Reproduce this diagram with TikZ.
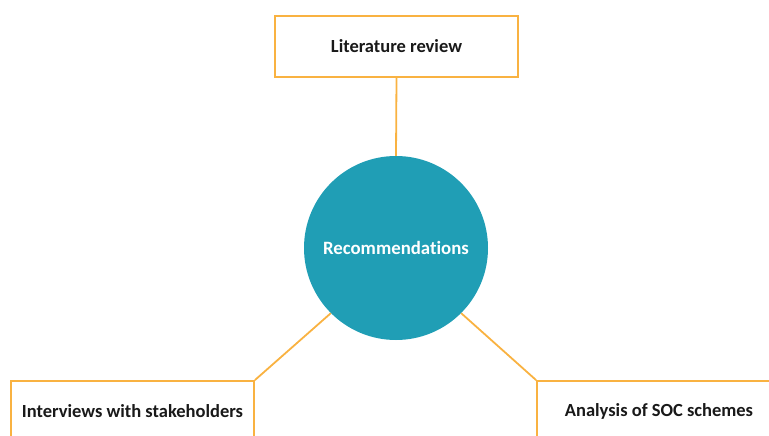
\documentclass[tikz,border=0pt]{standalone}
\usepackage{fontspec}
\setmainfont{Carlito}[Ligatures=NoCommon]
\definecolor{boxorange}{HTML}{F9B241}
\definecolor{circteal}{HTML}{209EB5}
\begin{document}
\begin{tikzpicture}[x=1pt,y=-1pt,
  box/.style={draw=boxorange,line width=1.8pt,fill=white,rectangle,inner sep=0pt,font=\fontsize{18.5}{22}\selectfont\bfseries,text=black!90},
  link/.style={draw=boxorange,line width=1.8pt}]
\useasboundingbox (0,0) rectangle (769,436);
\clip (0,0) rectangle (769,436);
\node[box,minimum width=243pt,minimum height=61pt] (lit) at (396.5,46.5) {Literature review};
\node[circle,fill=circteal,minimum size=184pt,inner sep=0pt,font=\fontsize{18.8}{22}\selectfont\bfseries,text=white] (rec) at (396,248) {Recommendations};
\node[box,minimum width=243pt,minimum height=61pt] (int) at (132.5,411.5) {Interviews with stakeholders};
\node[box,minimum width=244pt,minimum height=61pt] (soc) at (659,411.5) {Analysis of SOC schemes};
\draw[link] (lit.south) -- (rec.north);
\draw[link] (rec.225) -- (int.north east);
\draw[link] (rec.315) -- (soc.north west);
\end{tikzpicture}
\end{document}
